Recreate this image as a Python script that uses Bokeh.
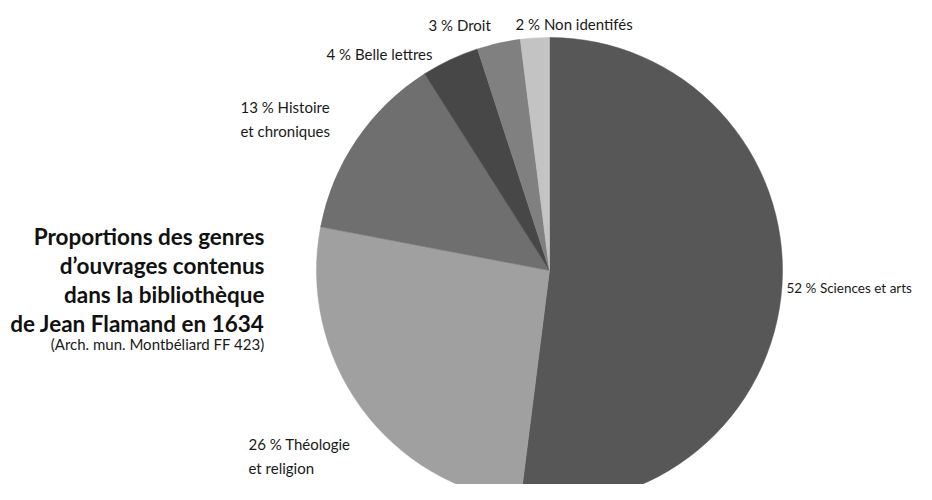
import math
from bokeh.plotting import figure
from bokeh.models import ColumnDataSource
from bokeh.core.properties import value
from bokeh.embed import file_html
from bokeh.resources import INLINE

# ---- data ----
genres = ["Sciences et arts", "Théologie et religion", "Histoire et chroniques",
          "Belle lettres", "Droit", "Non identifés"]
percents = [52, 26, 13, 4, 3, 2]
colors = ["#575757", "#a0a0a0", "#6f6f6f", "#474747", "#808080", "#c3c3c3"]

label_line1 = ["52 % Sciences et arts", "26 % Théologie", "13 % Histoire",
               "4 % Belle lettres", "3 % Droit", "2 % Non identifés"]
label_line2 = ["", "et religion", "et chroniques", "", "", ""]

title_lines = ["Proportions des genres", "d’ouvrages contenus",
               "dans la bibliothèque", "de Jean Flamand en 1634"]
subtitle = "(Arch. mun. Montbéliard FF 423)"

# ---- layout (picture pixel coordinates, origin top-left) ----
W, H = 916, 484
def px(x):
    return x
def py(y):
    return H - y

CX, CY, R = 549, 270, 233
label_x = [786, 248, 240, 326, 428, 515]
label_y = [287, 443, 106, 53, 24, 23]
label_size = ["13.5px", "15px", "15px", "15px", "15px", "15px"]
LINE = 24

p = figure(width=W, height=H, x_range=(0, W), y_range=(0, H),
           output_backend="svg", toolbar_location=None, min_border=0)
p.axis.visible = False
p.grid.visible = False
p.outline_line_color = None
p.background_fill_color = "white"
p.border_fill_color = "white"

total = sum(percents)
starts, ends = [], []
cum = 0
for v in percents:
    starts.append(math.pi / 2 - 2 * math.pi * cum / total)
    cum += v
    ends.append(math.pi / 2 - 2 * math.pi * cum / total)

src = ColumnDataSource(dict(x=[px(CX)] * len(percents), y=[py(CY)] * len(percents),
                            start=starts, end=ends, color=colors, genre=genres))
p.wedge(x="x", y="y", radius=R, start_angle="start", end_angle="end",
        direction="clock", fill_color="color", line_color="color", line_width=0.5,
        source=src)

# labels
lx, ly, lt, ls = [], [], [], []
for i in range(len(percents)):
    lx.append(px(label_x[i])); ly.append(py(label_y[i])); lt.append(label_line1[i]); ls.append(label_size[i])
    if label_line2[i]:
        lx.append(px(label_x[i])); ly.append(py(label_y[i] + LINE)); lt.append(label_line2[i]); ls.append(label_size[i])
lsrc = ColumnDataSource(dict(x=lx, y=ly, text=lt, size=ls))
p.text(x="x", y="y", text="text", text_font=value("Lato"), text_font_size="size",
       text_color="#1a1a1a", text_align="left", text_baseline="alphabetic",
       source=lsrc)

# title
TX = 264
title_y = [236, 265, 294, 323]
p.text(x=[px(TX)] * 4, y=[py(v) for v in title_y], text=title_lines,
       text_font=value("Lato"), text_font_size="22.5px", text_font_style="bold",
       text_color="#111111", text_align="right", text_baseline="alphabetic")
p.text(x=[px(TX)], y=[py(343)], text=[subtitle], text_font=value("Lato"),
       text_font_size="15px", text_color="#1a1a1a", text_align="right",
       text_baseline="alphabetic")

open("out.html", "w").write(file_html(p, INLINE))
